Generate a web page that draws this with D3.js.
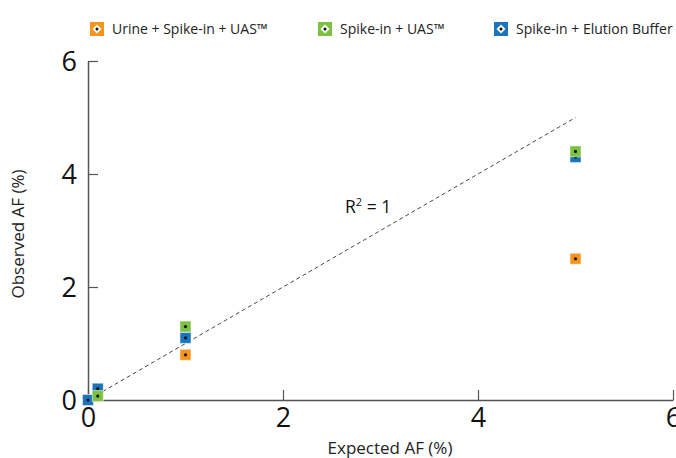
<!DOCTYPE html>
<html>
<head>
<meta charset="utf-8">
<script src="https://cdn.jsdelivr.net/npm/d3@7"></script>
<style>
  body { margin: 0; background: #fff; }
  text { font-family: "Open Sans", "Noto Sans", sans-serif; }
</style>
</head>
<body>
<div id="chart"></div>
<script>
// data
var seriesNames = ["Urine + Spike-in + UAS\u2122", "Spike-in + UAS\u2122", "Spike-in + Elution Buffer"];
var seriesColors = ["#f7941d", "#7cc242", "#1b75bc"];
var urineData = [[0, 0], [0.1, 0.1], [1, 0.8], [5, 2.5]];
var uasData = [[0.1, 0.07], [1, 1.3], [5, 4.4]];
var bufferData = [[0, 0], [0.1, 0.2], [1, 1.1], [5, 4.3]];
var xTicks = [0, 2, 4, 6];
var yTicks = [0, 2, 4, 6];
var fitLine = [[0.15, 0.15], [5, 5]];

const W = 676, H = 458;
const margin = {top: 61, right: 3, bottom: 58, left: 88};

var svg = d3.select("#chart").append("svg")
    .attr("width", W)
    .attr("height", H);

var x = d3.scaleLinear().domain([0, 6]).range([margin.left, W - margin.right]);
var y = d3.scaleLinear().domain([0, 6]).range([H - margin.bottom, margin.top]);

// axes, ticks pointing inward
var xAxis = svg.append("g")
    .attr("transform", `translate(0, ${y(0)})`)
    .call(d3.axisTop(x).tickValues(xTicks).tickSize(10).tickSizeOuter(0).tickFormat(d3.format("d")));
xAxis.select(".domain").attr("stroke", "#555").attr("stroke-width", 1.5);
xAxis.selectAll(".tick line").attr("stroke", "#555").attr("stroke-width", 1.2);
xAxis.selectAll(".tick text")
    .attr("y", 27)
    .attr("dy", 0)
    .style("font-size", "27px")
    .attr("fill", "#111");

var yAxis = svg.append("g")
    .attr("transform", `translate(${x(0)}, 0)`)
    .call(d3.axisRight(y).tickValues(yTicks).tickSize(10).tickSizeOuter(0).tickFormat(d3.format("d")));
yAxis.select(".domain").attr("stroke", "#555").attr("stroke-width", 1.5);
yAxis.selectAll(".tick line").attr("stroke", "#555").attr("stroke-width", 1.2);
yAxis.selectAll(".tick text")
    .attr("x", -11)
    .attr("dy", "0.35em")
    .attr("text-anchor", "end")
    .style("font-size", "27px")
    .attr("fill", "#111");

// axis titles
svg.append("text")
    .attr("x", 390)
    .attr("y", 454)
    .attr("text-anchor", "middle")
    .style("font-size", "17px")
    .attr("fill", "#222")
    .text("Expected AF (%)");

svg.append("text")
    .attr("transform", "rotate(-90)")
    .attr("x", -234)
    .attr("y", 24)
    .attr("text-anchor", "middle")
    .style("font-size", "17px")
    .attr("fill", "#222")
    .text("Observed AF (%)");

// dashed fit line
svg.append("line")
    .attr("x1", x(fitLine[0][0]))
    .attr("y1", y(fitLine[0][1]))
    .attr("x2", x(fitLine[1][0]))
    .attr("y2", y(fitLine[1][1]))
    .attr("stroke", "#333")
    .attr("stroke-width", 0.9)
    .attr("stroke-dasharray", "4,3");

var r2 = svg.append("text")
    .attr("x", 345)
    .attr("y", 213)
    .style("font-size", "17.5px")
    .attr("fill", "#111");
r2.append("tspan").text("R");
r2.append("tspan").attr("dy", -7).style("font-size", "11px").text("2");
r2.append("tspan").attr("dy", 7).text(" = 1");

// points
var allSeries = [urineData, bufferData, uasData];
var allColors = [seriesColors[0], seriesColors[2], seriesColors[1]];
var s = 11;
allSeries.forEach(function(data, i) {
    var g = svg.append("g");
    g.selectAll("rect")
        .data(data)
        .join("rect")
        .attr("x", d => x(d[0]) - s / 2)
        .attr("y", d => y(d[1]) - s / 2)
        .attr("width", s)
        .attr("height", s)
        .attr("fill", allColors[i])
        .attr("stroke", "#fff")
        .attr("stroke-opacity", 0.5)
        .attr("stroke-width", 1);
    g.selectAll("circle")
        .data(data)
        .join("circle")
        .attr("cx", d => x(d[0]))
        .attr("cy", d => y(d[1]))
        .attr("r", 1.6)
        .attr("fill", "#111");
});

// legend
var legendX = [90, 318, 494];
var legend = svg.selectAll(".legend")
    .data(seriesNames)
    .join("g")
    .attr("class", "legend")
    .attr("transform", (d, i) => `translate(${legendX[i]}, 22)`);

legend.append("rect")
    .attr("width", 14)
    .attr("height", 14)
    .attr("fill", (d, i) => seriesColors[i]);
legend.append("path")
    .attr("d", "M7,2.5 L11.5,7 L7,11.5 L2.5,7 Z")
    .attr("fill", "#fff");
legend.append("circle")
    .attr("cx", 7)
    .attr("cy", 7)
    .attr("r", 1.5)
    .attr("fill", "#111");
legend.append("text")
    .attr("x", 22)
    .attr("y", 12)
    .style("font-size", "14px")
    .attr("fill", "#222")
    .text(d => d);
</script>
</body>
</html>
